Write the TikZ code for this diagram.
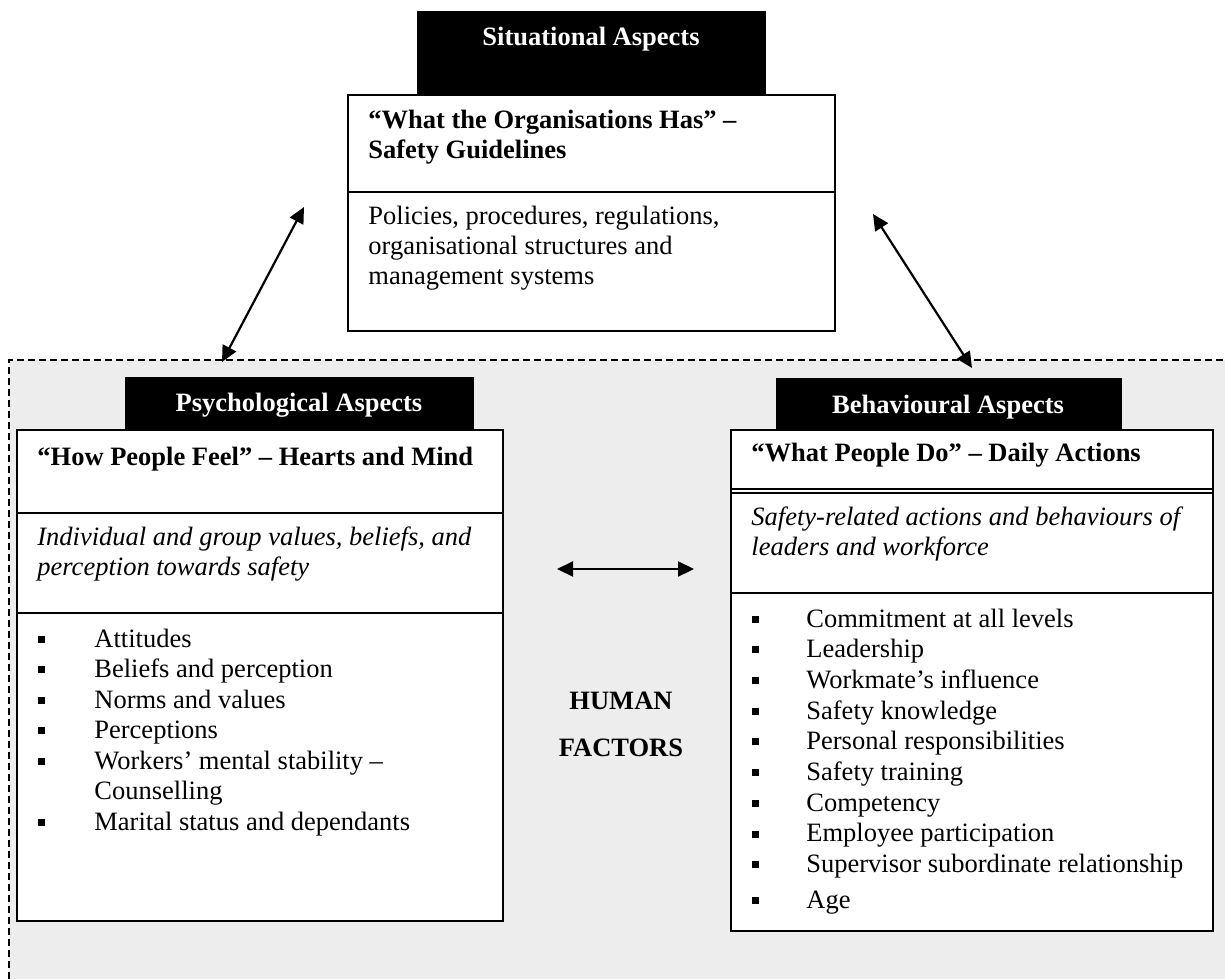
\documentclass[tikz,border=0pt]{standalone}
\usepackage{fontspec}
\setmainfont{Liberation Serif}
\usetikzlibrary{arrows.meta}
\definecolor{bggray}{RGB}{237,237,237}
\newcommand\fsz{\fontsize{13.25pt}{15.25pt}\selectfont}
\newcommand\sqb[1]{\makebox[#1][l]{\rule[2.2pt]{3.5pt}{3.5pt}}}
\begin{document}
\begin{tikzpicture}[x=0.5pt,y=-0.5pt,
  hdr/.style={fill=black, draw=black, inner sep=0pt, anchor=north west, line width=0.5pt},
  card/.style={fill=white, draw=black, line width=1pt, inner sep=0pt, anchor=north west},
  hdrtxt/.style={anchor=base, inner sep=0pt, text=white, font=\fsz\bfseries},
  ttl/.style={anchor=base west, inner sep=0pt, font=\fsz\bfseries},
  ctr/.style={anchor=base, inner sep=0pt, font=\fsz\bfseries},
  bodytxt/.style={anchor=base west, inner sep=0pt, font=\fsz},
  itxt/.style={anchor=base west, inner sep=0pt, font=\fsz\itshape},
  divider/.style={draw=black, line width=1pt},
  link/.style={line width=1.1pt, {Triangle[length=8pt,width=7.5pt]}-{Triangle[length=8pt,width=7.5pt]}},
  region/.style={draw=black, line width=0.6pt, dash pattern=on 3.5pt off 2pt}
]
\useasboundingbox (0,0) rectangle (1225,979);
\fill[white] (0,0) rectangle (1225,979);
\fill[bggray] (9,360) rectangle (1225,979);
\draw[region] (9,979) -- (9,360) -- (1225,360);

% Situational
\node[hdr, minimum width=174pt, minimum height=41.5pt] (sitH) at (417,11) {};
\node[card, minimum width=243.5pt, minimum height=118pt] (sit) at (347,94) {};
\draw[divider] (347,192) -- (834,192);
\node[hdrtxt] (sitT) at (591,46) {Situational Aspects};
\node[ttl] (sitA) at (368,128) {“What the Organisations Has” –};
\node[ttl] (sitB) at (368,158) {Safety Guidelines};
\node[bodytxt] (sitC) at (368,224) {Policies, procedures, regulations,};
\node[bodytxt] (sitD) at (368,254) {organisational structures and};
\node[bodytxt] (sitE) at (368,284) {management systems};

% Psychological
\node[hdr, minimum width=174pt, minimum height=26pt] (psyH) at (125,377) {};
\node[card, minimum width=243pt, minimum height=245.5pt] (psy) at (16,429) {};
\draw[divider] (16,513) -- (502,513);
\draw[divider] (16,613) -- (502,613);
\node[hdrtxt] (psyT) at (299,411) {Psychological Aspects};
\node[ttl] (psyA) at (37,465) {“How People Feel” – Hearts and Mind};
\node[itxt] (psyB) at (37,545) {Individual and group values, beliefs, and};
\node[itxt] (psyC) at (37,575) {perception towards safety};
\foreach \t/\yy [count=\i] in {Attitudes/647, Beliefs and perception/677.5, Norms and values/708, Perceptions/738.5, Workers’ mental stability –/769, Marital status and dependants/830}
  \node[bodytxt] (psyI\i) at (38,\yy) {\sqb{28pt}\t};
\node[bodytxt] (psyCo) at (94,799.5) {Counselling};

% Behavioural
\node[hdr, minimum width=172.5pt, minimum height=25.5pt] (behH) at (776,378) {};
\node[card, minimum width=241pt, minimum height=250.5pt] (beh) at (730,429) {};
\draw[divider] (730,489) -- (1212,489);
\draw[divider] (730,493) -- (1212,493);
\draw[divider] (730,593) -- (1212,593);
\node[hdrtxt] (behT) at (948,413) {Behavioural Aspects};
\node[ttl] (behA) at (751,461) {“What People Do” – Daily Actions};
\node[itxt] (behB) at (751,525) {Safety-related actions and behaviours of};
\node[itxt] (behC) at (751,555) {leaders and workforce};
\foreach \t/\yy [count=\i] in {Commitment at all levels/627, Leadership/657.7, Workmate’s influence/688.4, Safety knowledge/719.1, Personal responsibilities/749.8, Safety training/780.5, Competency/811.2, Employee participation/841.9, Supervisor subordinate relationship/872.6, Age/908}
  \node[bodytxt] (behI\i) at (752,\yy) {\sqb{27pt}\t};

% Human factors
\node[ctr] (hum) at (621,709) {HUMAN};
\node[ctr] (fac) at (621,756) {FACTORS};

% Connectors
\coordinate (l1) at (304,207);
\coordinate (l2) at (222,362);
\coordinate (r1) at (873,214);
\coordinate (r2) at (972,368);
\coordinate (h1) at (557,569);
\coordinate (h2) at (694,569);
\draw[link] (l1) -- (l2);
\draw[link] (r1) -- (r2);
\draw[link] (h1) -- (h2);
\end{tikzpicture}
\end{document}
